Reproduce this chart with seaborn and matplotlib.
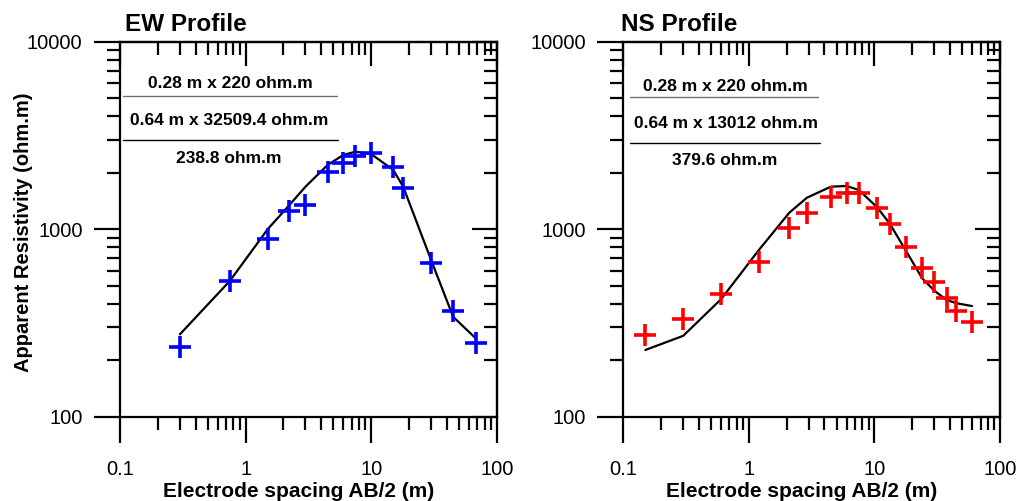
import matplotlib
matplotlib.use("Agg")
import matplotlib.pyplot as plt
import matplotlib.ticker as mticker
import seaborn as sns
import numpy as np
import pandas as pd

# ---------------- data ----------------
ew_ab2 = [0.3, 0.75, 1.5, 2.2, 3.0, 4.5, 6.0, 7.5, 10.0, 15.0, 18.0, 30.0, 45.0, 68.0]
ew_obs = [236, 530, 887, 1250, 1346, 2011, 2246, 2456, 2540, 2154, 1652, 663, 366, 246]
ew_model = [275, 530, 1000, 1330, 1685, 2200, 2488, 2590, 2518, 2070, 1686, 686, 341, 262]

ns_ab2 = [0.15, 0.3, 0.6, 1.2, 2.1, 2.9, 4.5, 6.0, 7.5, 10.4, 13.2, 18.0, 24.0, 30.0, 37.6, 45.0, 60.0]
ns_obs = [273, 331, 451, 668, 1011, 1227, 1476, 1560, 1566, 1292, 1062, 807, 619, 523, 431, 364, 320]
ns_model = [227, 270, 423, 774, 1225, 1472, 1686, 1700, 1618, 1318, 1075, 759, 547, 470, 419, 403, 389]

panel_titles = ["EW Profile", "NS Profile"]
ew_notes = ["0.28 m x 220 ohm.m", "0.64 m x 32509.4 ohm.m", "238.8 ohm.m"]
ns_notes = ["0.28 m x 220 ohm.m", "0.64 m x 13012 ohm.m", "379.6 ohm.m"]
x_label = "Electrode spacing AB/2 (m)"
y_label = "Apparent Resistivity (ohm.m)"

# ---------------- style ----------------
sns.set_theme(style="white")
plt.rcParams["font.family"] = ["Liberation Sans", "DejaVu Sans"]

W, H = 1019, 501
fig = plt.figure(figsize=(W / 100, H / 100), dpi=100)


def px_axes(x0, x1, y0, y1):
    return fig.add_axes([x0 / W, 1 - y1 / H, (x1 - x0) / W, (y1 - y0) / H])


ax_l = px_axes(120, 496.7, 41.7, 416.7)
ax_r = px_axes(623.3, 1000, 41.7, 416.7)

panels = [
    (ax_l, ew_ab2, ew_obs, ew_model, "#0000ff", ew_notes, panel_titles[0],
     dict(t=[(0.292, 0.889), (0.289, 0.79), (0.289, 0.688)], l1=(0.008, 0.575, 0.856), l2=(0.008, 0.579, 0.738), tx=0.013)),
    (ax_r, ns_ab2, ns_obs, ns_model, "#ff0000", ns_notes, panel_titles[1],
     dict(t=[(0.27, 0.880), (0.272, 0.781), (0.27, 0.684)], l1=(0.018, 0.517, 0.853), l2=(0.018, 0.522, 0.731), tx=-0.006)),
]

fmt = mticker.FuncFormatter(lambda v, p: f"{v:g}")

for ax, xs, obs, mod, col, notes, title, lay in panels:
    df = pd.DataFrame({"x": xs, "obs": obs, "mod": mod})
    sns.lineplot(data=df, x="x", y="mod", ax=ax, color="black", linewidth=1.6,
                 estimator=None, sort=False, zorder=2)
    sns.scatterplot(data=df, x="x", y="obs", ax=ax, marker="+", s=240,
                    color=col, linewidth=2.6, zorder=3)
    ax.set_xscale("log")
    ax.set_yscale("log")
    ax.set_xlim(0.1, 100)
    ax.set_ylim(100, 10000)

    ax.xaxis.set_major_formatter(fmt)
    ax.yaxis.set_major_formatter(fmt)
    ax.xaxis.set_minor_formatter(mticker.NullFormatter())
    ax.yaxis.set_minor_formatter(mticker.NullFormatter())
    ax.xaxis.set_minor_locator(mticker.LogLocator(base=10, subs=np.arange(2, 10), numticks=20))
    ax.yaxis.set_minor_locator(mticker.LogLocator(base=10, subs=np.arange(2, 10), numticks=20))

    for s in ax.spines.values():
        s.set_linewidth(1.6)
        s.set_color("black")
        s.set_visible(True)

    ax.tick_params(axis="x", which="major", direction="out", length=19, width=1.6,
                   color="black", labelsize=14.5, pad=12, bottom=True)
    ax.tick_params(axis="x", which="minor", direction="out", length=9.5, width=1.6,
                   color="black", bottom=True)
    ax.tick_params(axis="y", which="major", direction="out", length=19, width=1.6,
                   color="black", labelsize=14.5, pad=8, left=True)
    ax.tick_params(axis="y", which="minor", direction="out", length=9.5, width=1.6,
                   color="black", left=True)
    for lab in ax.get_xticklabels() + ax.get_yticklabels():
        lab.set_color("black")

    # inward ticks on top and right
    sx = ax.secondary_xaxis("top")
    sx.tick_params(which="major", direction="in", length=17, width=1.6, color="black")
    sx.tick_params(which="minor", direction="in", length=9, width=1.6, color="black")
    sx.xaxis.set_minor_locator(mticker.LogLocator(base=10, subs=np.arange(2, 10), numticks=20))
    sx.xaxis.set_major_formatter(mticker.NullFormatter())
    sx.xaxis.set_minor_formatter(mticker.NullFormatter())
    sx.spines["top"].set_linewidth(1.6)

    sy = ax.secondary_yaxis("right")
    sy.tick_params(which="major", direction="in", length=18, width=1.6, color="black")
    sy.tick_params(which="minor", direction="in", length=9.5, width=1.6, color="black")
    sy.yaxis.set_minor_locator(mticker.LogLocator(base=10, subs=np.arange(2, 10), numticks=20))
    sy.yaxis.set_major_formatter(mticker.NullFormatter())
    sy.yaxis.set_minor_formatter(mticker.NullFormatter())
    sy.spines["right"].set_linewidth(1.6)

    ax.set_xlabel(x_label, fontsize=15, fontweight="bold", color="black")
    ax.xaxis.set_label_coords(0.473, -0.175)
    ax.set_ylabel("")

    ax.text(lay["tx"], 1.029, title, transform=ax.transAxes, fontsize=17.5,
            fontweight="bold", ha="left", va="baseline", color="black")

    for (tx, ty), note in zip(lay["t"], notes):
        ax.text(tx, ty, note, transform=ax.transAxes, fontsize=12.5,
                fontweight="bold", ha="center", va="center", color="black")
    a, b, y = lay["l1"]
    ax.plot([a, b], [y, y], transform=ax.transAxes, color="#707070", linewidth=1.0)
    a, b, y = lay["l2"]
    ax.plot([a, b], [y, y], transform=ax.transAxes, color="black", linewidth=1.0)

ax_l.set_ylabel(y_label, fontsize=14.5, fontweight="bold", color="black")
ax_l.yaxis.set_label_coords(-0.231, 0.491)

fig.savefig("out.png", dpi=100)
